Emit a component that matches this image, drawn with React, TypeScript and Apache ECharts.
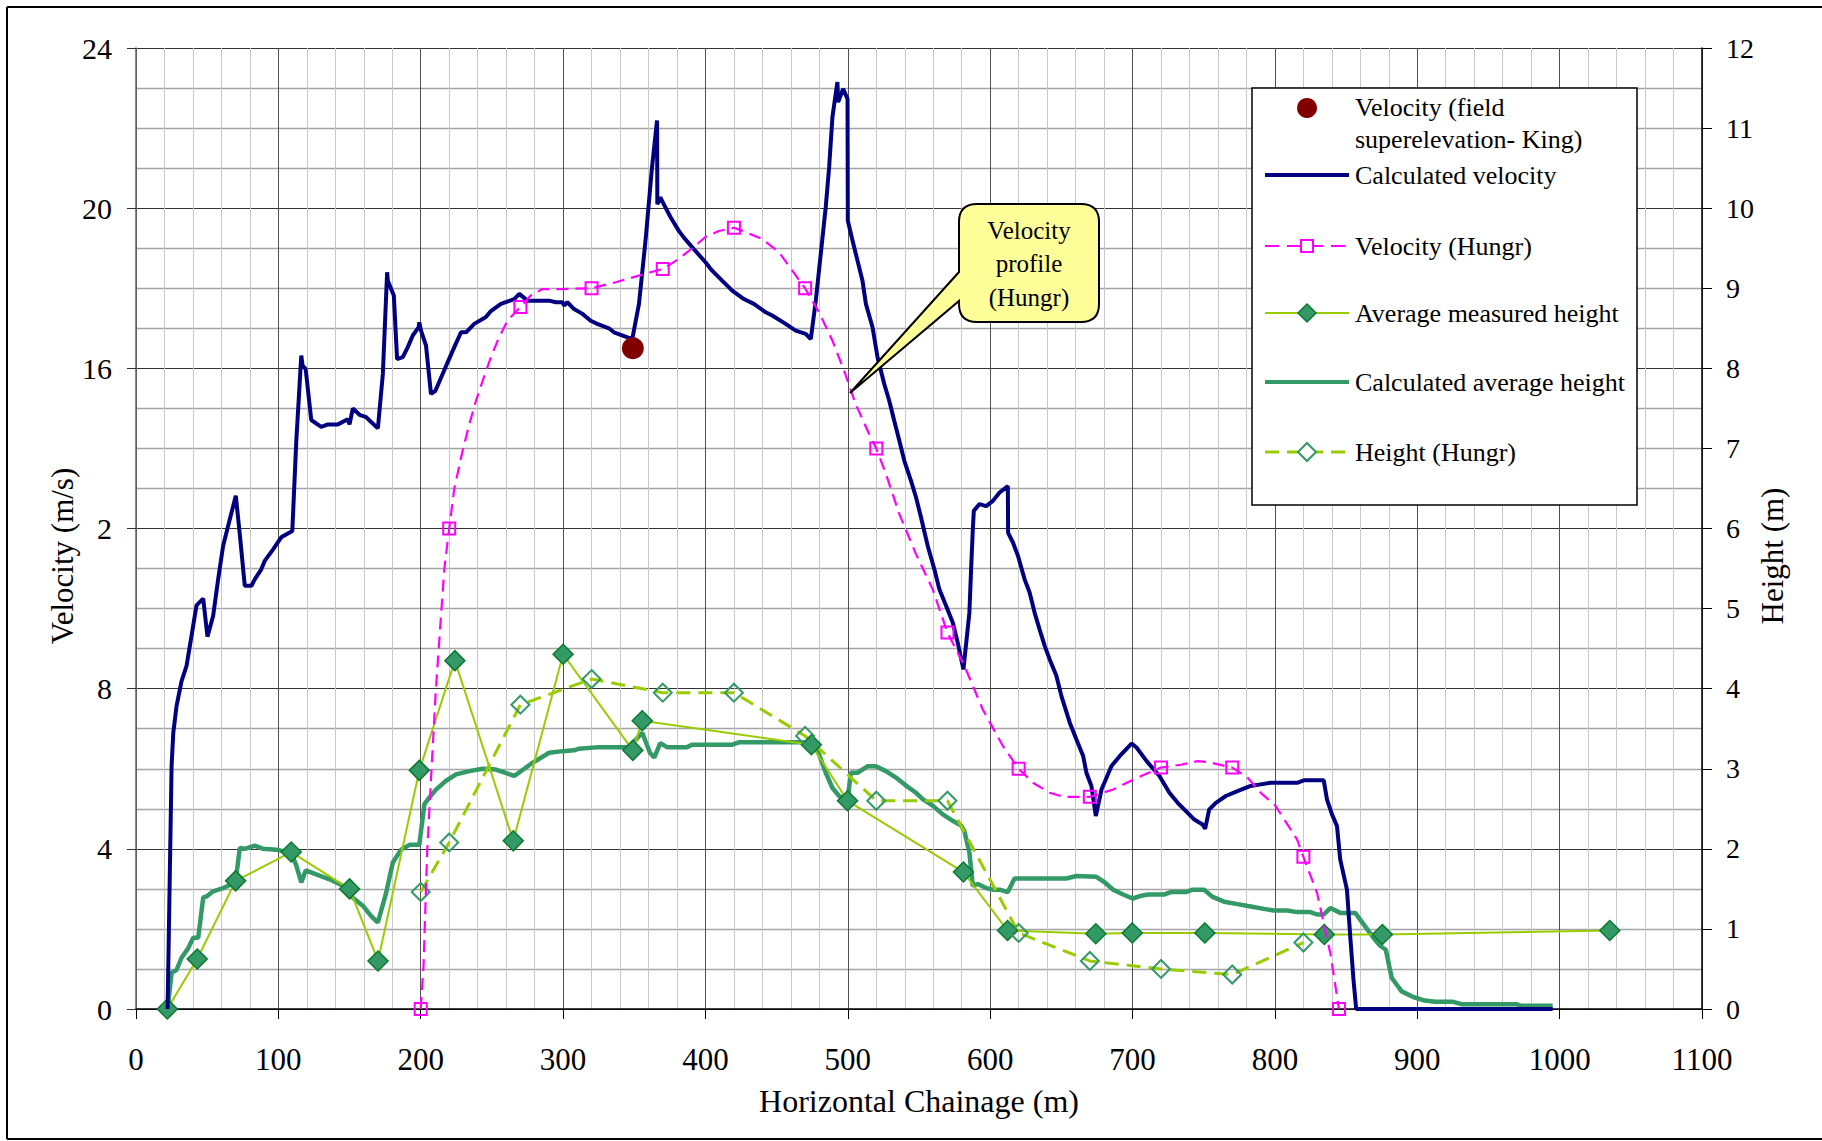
import React, { useEffect, useRef } from "react";
import * as echarts from "echarts";

// ---------------- DATA ----------------
const xTickLabels = ["0", "100", "200", "300", "400", "500", "600", "700", "800", "900", "1000", "1100"];
const velTickLabels = ["0", "4", "8", "2", "16", "20", "24"];
const heightTickLabels = ["0", "1", "2", "3", "4", "5", "6", "7", "8", "9", "10", "11", "12"];

// Velocity (field superelevation - King)
const fieldVelX = [349];
const fieldVelV = [16.5];

// Calculated velocity (m/s)
const calcVelX = [
  22.2, 25, 26.2, 28.5, 32, 35.5, 39, 42.5, 47.2, 50.2, 54.2, 57.7, 61.2, 65.9, 70.1, 72.9, 76.4, 81.1, 83.4, 88,
  90.4, 96.3, 102, 109.8, 112.6, 116.1, 117, 119.2, 123.1, 130.1, 134.8, 141.8, 148.8, 150, 152.3, 157, 161.7, 169.9,
  173.4, 176.4, 176.9, 181.1, 183.4, 187.4, 190.9, 194.4, 198.6, 199, 200.2, 203.7, 207.2, 210.3, 215.4, 218.9, 223.6,
  228.3, 231.8, 237.6, 245.8, 249.3, 256.3, 265.7, 269.2, 275, 290.2, 294.9, 299.5, 300.7, 303, 307.7, 313.6, 319.4,
  324, 332.2, 335.7, 348.6, 353.3, 357.9, 362.4, 366, 366.2, 368.3, 370.7, 375.4, 381.2, 384.7, 391.8, 400, 404.7,
  411.7, 418.8, 427, 434, 442.3, 446.9, 456.3, 463.4, 470.4, 474, 477.5, 481, 484.5, 486.9, 489.2, 492.7, 493.2,
  496.7, 499.8, 500, 503.3, 506.8, 510.3, 512.7, 517.4, 520.9, 525.6, 529.1, 532.6, 536.2, 539.7, 544.4, 547.9, 551.4,
  556.1, 560.8, 564.3, 569, 573.7, 577.2, 581.2, 585.4, 586.6, 587.8, 588.5, 592.5, 597.2, 601.9, 606.6, 612.4, 612.6,
  616, 619.5, 624.2, 627.7, 631.2, 634.7, 638.3, 641.8, 646.5, 650, 655.9, 660.6, 665.3, 667.6, 671.1, 674.2, 678.2,
  685.2, 691.1, 699.3, 702.8, 709.9, 718.9, 725.9, 731.7, 737.5, 743.4, 749.2, 751, 753.8, 758.5, 765.5, 773.7, 783,
  790, 797, 815.6, 820.3, 834.3, 836.6, 840.1, 843.6, 845.9, 850.6, 852.9, 855.2, 857.1, 995.1,
];
const calcVelV = [
  0, 6.07, 6.9, 7.57, 8.19, 8.57, 9.32, 10.08, 10.25, 9.3, 9.82, 10.73, 11.57, 12.23, 12.82, 11.86, 10.57, 10.57, 10.73,
  10.98, 11.19, 11.48, 11.78, 11.94, 14.19, 16.32, 16.07, 15.98, 14.71, 14.54, 14.6, 14.6, 14.73, 14.6, 15.0, 14.84,
  14.78, 14.5, 15.86, 18.4, 18.19, 17.82, 16.23, 16.28, 16.53, 16.82, 17.03, 17.15, 16.94, 16.57, 15.36, 15.44, 15.86,
  16.15, 16.53, 16.9, 16.9, 17.11, 17.28, 17.43, 17.61, 17.73, 17.86, 17.69, 17.69, 17.65, 17.65, 17.57, 17.65, 17.48,
  17.36, 17.19, 17.11, 17.0, 16.9, 16.73, 17.61, 19.19, 21.0, 22.19, 20.1, 20.27, 20.1, 19.78, 19.44, 19.27, 18.98,
  18.65, 18.44, 18.19, 17.94, 17.73, 17.61, 17.4, 17.32, 17.11, 16.94, 16.86, 16.73, 17.69, 18.86, 20.03, 21.03, 22.28,
  23.15, 22.65, 22.98, 22.73, 19.69, 19.19, 18.69, 18.19, 17.61, 17.02, 16.27, 15.61, 15.19, 14.69, 14.19, 13.69,
  13.19, 12.78, 12.28, 11.57, 10.98, 10.48, 10.07, 9.65, 9.15, 8.48, 9.9, 10.98, 11.98, 12.44, 12.61, 12.56, 12.69,
  12.9, 13.06, 11.89, 11.65, 11.32, 10.73, 10.4, 9.9, 9.48, 9.07, 8.73, 8.32, 7.82, 7.15, 6.73, 6.32, 5.9, 5.57, 4.82,
  5.48, 6.07, 6.32, 6.63, 6.53, 6.19, 5.82, 5.4, 5.15, 4.94, 4.73, 4.61, 4.5, 4.98, 5.15, 5.32, 5.44, 5.57, 5.61, 5.65,
  5.65, 5.71, 5.71, 5.23, 4.86, 4.57, 3.73, 2.98, 1.82, 0.73, 0, 0,
];

// Velocity (Hungr) - curve
const hungrVelX = [
  200, 202, 204.5, 207, 210.5, 213.8, 216.6, 220, 223.6, 229.4, 234.1, 238.8, 243.5, 249.3, 255.1, 261, 270, 277.3,
  285.5, 299.5, 320, 337, 361.4, 370, 381.2, 391.8, 400, 409.4, 420, 428.2, 439.9, 451.6, 461, 470, 479.8, 489.2,
  497.4, 505.6, 515, 520, 526.8, 536.2, 547.9, 559.6, 570, 581.9, 594.8, 608.9, 620, 630, 641.8, 651.2, 670, 686.4,
  700.5, 720, 734, 745.7, 752.7, 770, 780.7, 790, 800.5, 815.6, 820, 829.6, 838.9, 845,
];
const hungrVelV = [
  0, 1.1, 3.9, 5.6, 7.9, 9.6, 11.0, 12.0, 13.0, 13.94, 14.6, 15.19, 15.69, 16.28, 16.78, 17.19, 17.53, 17.82, 17.98,
  17.98, 18.0, 18.15, 18.4, 18.48, 18.73, 19.03, 19.28, 19.43, 19.51, 19.4, 19.23, 18.9, 18.44, 18.0, 17.4, 16.69,
  15.94, 15.1, 14.36, 14.0, 13.36, 12.36, 11.36, 10.48, 9.4, 8.57, 7.48, 6.57, 6.0, 5.65, 5.4, 5.3, 5.3, 5.48, 5.73,
  6.03, 6.1, 6.19, 6.17, 6.03, 5.78, 5.4, 5.07, 4.23, 3.8, 2.9, 1.4, 0,
];
// Velocity (Hungr) - marked points
const hungrVelMarkX = [200, 220, 270, 320, 370, 420, 470, 520, 570, 620, 670, 720, 770, 820, 845];
const hungrVelMarkV = [0, 12, 17.53, 18, 18.48, 19.51, 18, 14, 9.4, 6, 5.3, 6.03, 6.03, 3.8, 0];

// Average measured height (m)
const measHX = [22, 43, 70, 109, 150, 170, 199, 224, 265, 300, 349, 355.6, 474.4, 499.8, 581.2, 612.2, 674.2, 699.8, 750.8, 834.7, 875.5, 1035.2];
const measHH = [0, 0.625, 1.6, 1.96, 1.5, 0.6, 2.98, 4.35, 2.1, 4.43, 3.23, 3.6, 3.3, 2.6, 1.71, 0.98, 0.94, 0.95, 0.95, 0.93, 0.93, 0.98];

// Calculated average height (m)
const calcHX = [
  22.2, 25, 28.5, 32, 36.7, 40.2, 43.7, 47.2, 50, 54.2, 61.2, 69.9, 72.9, 76.4, 83.4, 89.3, 98.6, 109.1, 112.6, 116.1,
  119.2, 126.6, 136, 145.3, 152.3, 159.3, 165.2, 169.9, 175.7, 180.4, 186.2, 192.1, 199, 202.6, 206, 210.7, 217.8,
  224.8, 234.1, 243.5, 252.8, 265.7, 277.3, 290.2, 299.5, 307.7, 311.2, 325.2, 346.3, 355.6, 361, 364, 368.3, 373,
  387.1, 390.6, 418.8, 423.5, 466.9, 475.1, 479.8, 484.5, 489.2, 493.9, 499.8, 502.1, 506.8, 513.8, 519.7, 526.8,
  533.8, 540.8, 547.9, 552.6, 559.6, 566.7, 573.7, 579.6, 581.9, 585.4, 587.8, 591.3, 597.2, 601.9, 606.6, 612.4,
  617.1, 634.7, 653.5, 660.6, 674.6, 680.5, 686.4, 693.4, 700, 705.2, 711, 722.4, 727, 737.5, 742.2, 750.3, 756.2,
  764.3, 773.7, 783, 792.3, 799.3, 808.6, 815.6, 824.9, 829.6, 834.3, 838.9, 845.9, 856.4, 862.2, 869.2, 873.9, 877.9,
  882, 889, 897.2, 904.2, 912.4, 925.2, 931, 969.5, 973, 995.1,
];
const calcHH = [
  0, 0.45, 0.49, 0.64, 0.76, 0.89, 0.89, 1.39, 1.41, 1.47, 1.51, 1.58, 2.01, 2.0, 2.04, 2.0, 1.99, 1.95, 1.79, 1.58,
  1.73, 1.68, 1.62, 1.54, 1.39, 1.29, 1.16, 1.08, 1.45, 1.83, 1.99, 2.05, 2.05, 2.56, 2.64, 2.74, 2.85, 2.93, 2.97, 3.0,
  2.99, 2.91, 3.06, 3.2, 3.22, 3.23, 3.25, 3.27, 3.27, 3.45, 3.2, 3.14, 3.32, 3.27, 3.27, 3.3, 3.3, 3.33, 3.33, 3.32,
  3.18, 2.95, 2.76, 2.66, 2.6, 2.95, 2.95, 3.03, 3.03, 2.97, 2.89, 2.79, 2.7, 2.62, 2.54, 2.43, 2.35, 2.29, 2.22, 1.95,
  1.54, 1.56, 1.51, 1.49, 1.49, 1.46, 1.63, 1.63, 1.63, 1.66, 1.65, 1.58, 1.49, 1.43, 1.38, 1.41, 1.43, 1.43, 1.46,
  1.46, 1.49, 1.49, 1.4, 1.34, 1.31, 1.28, 1.25, 1.23, 1.23, 1.21, 1.21, 1.18, 1.18, 1.26, 1.2, 1.2, 1.06, 0.89, 0.79,
  0.74, 0.39, 0.22, 0.15, 0.11, 0.09, 0.09, 0.06, 0.06, 0.04, 0.04,
];

// Height (Hungr) (m)
const hungrHX = [200, 220, 270, 320, 370, 420, 470, 520, 570, 620, 670, 720, 770, 820];
const hungrHH = [1.46, 2.08, 3.8, 4.12, 3.95, 3.95, 3.41, 2.6, 2.6, 0.95, 0.6, 0.5, 0.43, 0.83];

const legendLabels = [
  ["Velocity (field", "superelevation- King)"],
  ["Calculated velocity"],
  ["Velocity (Hungr)"],
  ["Average measured height"],
  ["Calculated average height"],
  ["Height (Hungr)"],
];
const calloutLines = ["Velocity", "profile", "(Hungr)"];

// ---------------- LAYOUT / STYLE ----------------
const W = 1822;
const H = 1141;
const GL = 136;
const GR = 1702;
const GT = 48;
const GB = 1009;
const FF = '"Liberation Serif", "Times New Roman", serif';

const NAVY = "#000080";
const MAGENTA = "#FF00FF";
const YGREEN = "#99CC00";
const SEAGREEN = "#339966";
const DKGREEN = "#0A7A2F";
const DKRED = "#800000";

// callout outline (pixel path)
const CB = { l: 959, r: 1099, t: 204, b: 322, rad: 18 };
const TIP = { x: 850, y: 393 };
const calloutPath =
  `M ${CB.l + CB.rad} ${CB.t} L ${CB.r - CB.rad} ${CB.t} Q ${CB.r} ${CB.t} ${CB.r} ${CB.t + CB.rad} ` +
  `L ${CB.r} ${CB.b - CB.rad} Q ${CB.r} ${CB.b} ${CB.r - CB.rad} ${CB.b} L ${CB.l + CB.rad} ${CB.b} ` +
  `Q ${CB.l} ${CB.b} ${CB.l} ${CB.b - CB.rad} L ${CB.l} 301 L ${TIP.x} ${TIP.y} L ${CB.l} 272 ` +
  `L ${CB.l} ${CB.t + CB.rad} Q ${CB.l} ${CB.t} ${CB.l + CB.rad} ${CB.t} Z`;

let registered = false;
function ensureShapes() {
  if (registered) return;
  echarts.graphic.registerShape("callout", echarts.graphic.extendPath(calloutPath, {}));
  registered = true;
}

function pairs(xs: number[], ys: number[]) {
  return xs.map((x, i) => [x, ys[i]]);
}

function txt(x: number, y: number, text: string, size: number, extra: any = {}) {
  return {
    type: "text",
    x,
    y,
    silent: true,
    z: 100,
    ...extra,
    style: {
      text,
      fill: "#000",
      fontSize: size,
      fontFamily: FF,
      align: extra.align || "left",
      textAlign: extra.align || "left",
      verticalAlign: "middle",
      textVerticalAlign: "middle",
    },
  };
}

function buildLegend() {
  const els: any[] = [];
  const sx = 1307;
  const lx1 = 1265;
  const lx2 = 1349;
  const tx = 1355;
  const fs = 26;
  els.push({
    type: "rect",
    shape: { x: 1252, y: 88, width: 385, height: 417 },
    style: { fill: "#fff", stroke: "#000", lineWidth: 1.5 },
    silent: true,
    z: 90,
  });
  els.push({ type: "circle", shape: { cx: sx, cy: 108, r: 10 }, style: { fill: DKRED }, silent: true, z: 95 });
  els.push(txt(tx, 107, legendLabels[0][0], fs));
  els.push(txt(tx, 139, legendLabels[0][1], fs));
  els.push({ type: "line", shape: { x1: lx1, y1: 175, x2: lx2, y2: 175 }, style: { stroke: NAVY, lineWidth: 4 }, silent: true, z: 95 });
  els.push(txt(tx, 175, legendLabels[1][0], fs));
  els.push({ type: "line", shape: { x1: lx1, y1: 246, x2: lx2, y2: 246 }, style: { stroke: MAGENTA, lineWidth: 2, lineDash: [14, 8] }, silent: true, z: 95 });
  els.push({ type: "rect", shape: { x: sx - 6, y: 240, width: 12, height: 12 }, style: { fill: "#fff", stroke: MAGENTA, lineWidth: 2 }, silent: true, z: 96 });
  els.push(txt(tx, 246, legendLabels[2][0], fs));
  els.push({ type: "line", shape: { x1: lx1, y1: 313, x2: lx2, y2: 313 }, style: { stroke: YGREEN, lineWidth: 2 }, silent: true, z: 95 });
  els.push({
    type: "polygon",
    shape: { points: [[sx, 304], [sx + 9, 313], [sx, 322], [sx - 9, 313]] },
    style: { fill: SEAGREEN, stroke: DKGREEN, lineWidth: 1.5 },
    silent: true,
    z: 96,
  });
  els.push(txt(tx, 313, legendLabels[3][0], fs));
  els.push({ type: "line", shape: { x1: lx1, y1: 382, x2: lx2, y2: 382 }, style: { stroke: SEAGREEN, lineWidth: 4 }, silent: true, z: 95 });
  els.push(txt(tx, 382, legendLabels[4][0], fs));
  els.push({ type: "line", shape: { x1: lx1, y1: 452, x2: lx2, y2: 452 }, style: { stroke: YGREEN, lineWidth: 3, lineDash: [14, 8] }, silent: true, z: 95 });
  els.push({
    type: "polygon",
    shape: { points: [[sx, 443], [sx + 9, 452], [sx, 461], [sx - 9, 452]] },
    style: { fill: "#fff", stroke: SEAGREEN, lineWidth: 2 },
    silent: true,
    z: 96,
  });
  els.push(txt(tx, 452, legendLabels[5][0], fs));
  return els;
}

function buildCallout() {
  const els: any[] = [];
  els.push({
    type: "callout",
    x: 0,
    y: 0,
    style: { fill: "#FFFF99", stroke: "#000", lineWidth: 2 },
    silent: true,
    z: 80,
  });
  const cx = (CB.l + CB.r) / 2;
  const ys = [230, 263, 297];
  calloutLines.forEach((t, i) => els.push(txt(cx, ys[i], t, 25, { align: "center" })));
  return els;
}

export default function App() {
  const ref = useRef<HTMLDivElement>(null);

  useEffect(() => {
    ensureShapes();
    const el = ref.current!;
    const chart = echarts.init(el, null, { renderer: "svg", width: W, height: H });

    const frame = { stroke: "#000", lineWidth: 2 };
    const option: any = {
      animation: false,
      backgroundColor: "#fff",
      grid: { left: GL, right: W - GR, top: GT, bottom: H - GB, containLabel: false, outerBoundsMode: "none" },
      xAxis: {
        type: "value",
        min: 0,
        max: 1100,
        interval: 100,
        axisLine: { show: true, onZero: false, lineStyle: { color: "#000", width: 1.5 } },
        axisTick: { show: true, length: 10, lineStyle: { color: "#000" } },
        axisLabel: {
          fontFamily: FF,
          fontSize: 31,
          color: "#000",
          margin: 35,
          formatter: (v: number) => xTickLabels[Math.round(v / 100)] ?? "",
        },
        splitLine: { show: true, lineStyle: { color: "#505050", width: 1 } },
        minorTick: { show: false, splitNumber: 5 },
        minorSplitLine: { show: true, lineStyle: { color: "#c8c8c8", width: 1 } },
      },
      yAxis: [
        {
          type: "value",
          position: "left",
          min: 0,
          max: 24,
          interval: 4,
          axisLine: { show: true, onZero: false, lineStyle: { color: "#666", width: 1.5 } },
          axisTick: { show: true, length: 9, lineStyle: { color: "#333" } },
          axisLabel: {
            fontFamily: FF,
            fontSize: 30,
            color: "#000",
            margin: 24,
            formatter: (v: number) => velTickLabels[Math.round(v / 4)] ?? "",
          },
          splitLine: { show: true, lineStyle: { color: "#333", width: 1 } },
          minorTick: { show: false, splitNumber: 4 },
          minorSplitLine: { show: true, lineStyle: { color: "#a4a4a4", width: 1.4 } },
        },
        {
          type: "value",
          position: "right",
          min: 0,
          max: 12,
          interval: 1,
          axisLine: { show: true, onZero: false, lineStyle: { color: "#000", width: 1.5 } },
          axisTick: { show: true, length: 10, lineStyle: { color: "#000" } },
          axisLabel: {
            fontFamily: FF,
            fontSize: 28,
            color: "#000",
            margin: 24,
            formatter: (v: number) => heightTickLabels[Math.round(v)] ?? "",
          },
          splitLine: { show: false },
        },
      ],
      series: [
        {
          name: "Calculated average height",
          type: "line",
          yAxisIndex: 1,
          data: pairs(calcHX, calcHH),
          showSymbol: false,
          symbol: "none",
          lineStyle: { color: SEAGREEN, width: 4.5 },
          z: 2,
        },
        {
          name: "Average measured height",
          type: "line",
          yAxisIndex: 1,
          data: pairs(measHX, measHH),
          symbol: "diamond",
          symbolSize: 20,
          showSymbol: true,
          lineStyle: { color: YGREEN, width: 2 },
          itemStyle: { color: SEAGREEN, borderColor: DKGREEN, borderWidth: 1.5, opacity: 1 },
          z: 3,
        },
        {
          name: "Height (Hungr)",
          type: "line",
          yAxisIndex: 1,
          data: pairs(hungrHX, hungrHH),
          symbol: "diamond",
          symbolSize: 18,
          showSymbol: true,
          lineStyle: { color: YGREEN, width: 3, type: [14, 8] },
          itemStyle: { color: "rgba(255,255,255,0)", borderColor: SEAGREEN, borderWidth: 2, opacity: 1 },
          z: 3,
        },
        {
          name: "Calculated velocity",
          type: "line",
          yAxisIndex: 0,
          data: pairs(calcVelX, calcVelV),
          showSymbol: false,
          symbol: "none",
          lineStyle: { color: NAVY, width: 4 },
          z: 4,
        },
        {
          name: "Velocity (Hungr)",
          type: "line",
          yAxisIndex: 0,
          data: pairs(hungrVelX, hungrVelV),
          showSymbol: false,
          symbol: "none",
          lineStyle: { color: MAGENTA, width: 2.2, type: [12, 7] },
          z: 5,
        },
        {
          name: "Velocity (Hungr) points",
          type: "line",
          yAxisIndex: 0,
          data: pairs(hungrVelMarkX, hungrVelMarkV),
          symbol: "rect",
          symbolSize: 12,
          showSymbol: true,
          lineStyle: { width: 0, opacity: 0 },
          itemStyle: { color: "rgba(255,255,255,0)", borderColor: MAGENTA, borderWidth: 2, opacity: 1 },
          z: 6,
        },
        {
          name: "Velocity (field superelevation- King)",
          type: "line",
          yAxisIndex: 0,
          data: pairs(fieldVelX, fieldVelV),
          symbol: "circle",
          symbolSize: 22,
          showSymbol: true,
          lineStyle: { width: 0, opacity: 0 },
          itemStyle: { color: DKRED, borderWidth: 0, opacity: 1 },
          z: 7,
        },
      ],
      graphic: {
        elements: [
          { type: "line", shape: { x1: 7, y1: 7, x2: W, y2: 7 }, style: frame, silent: true, z: 1 },
          { type: "line", shape: { x1: 7, y1: 7, x2: 7, y2: 1139 }, style: frame, silent: true, z: 1 },
          { type: "line", shape: { x1: 7, y1: 1139, x2: W, y2: 1139 }, style: frame, silent: true, z: 1 },
          txt((GL + GR) / 2, 1101, "Horizontal Chainage (m)", 32, { align: "center" }),
          txt(62, 556, "Velocity (m/s)", 31, { align: "center", rotation: Math.PI / 2 }),
          txt(1772, 556, "Height (m)", 31, { align: "center", rotation: Math.PI / 2 }),
          ...buildLegend(),
          ...buildCallout(),
        ],
      },
    };

    chart.setOption(option);
    return () => chart.dispose();
  }, []);

  return (
    <div
      ref={ref}
      style={{ position: "fixed", left: 0, top: 0, width: W, height: H, background: "#fff" }}
    />
  );
}
